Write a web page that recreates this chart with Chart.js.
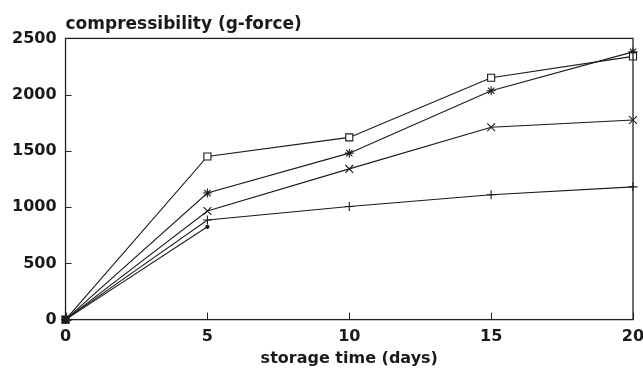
<!DOCTYPE html>
<html>
<head>
<meta charset="utf-8">
<script src="https://cdn.jsdelivr.net/npm/chart.js@4/dist/chart.umd.min.js"></script>
<style>
  html, body { margin: 0; padding: 0; background: #fff; }
  #wrap { width: 643px; height: 368px; }
</style>
</head>
<body>
<div id="wrap"><canvas id="c" width="643" height="368"></canvas></div>
<script>
const days = [0, 5, 10, 15, 20];
const squareSeries = [0, 1450, 1620, 2150, 2340];
const starSeries = [0, 1125, 1480, 2035, 2380];
const crossRotSeries = [0, 965, 1340, 1710, 1775];
const crossSeries = [0, 885, 1005, 1110, 1180];
const dotSeries = [0, 825];
const yTicks = [0, 500, 1000, 1500, 2000, 2500];
const xTicks = [0, 5, 10, 15, 20];
const titleText = 'compressibility (g-force)';
const xTitleText = 'storage time (days)';

const FONT = 'DejaVu Sans';
const INK = '#1a1a1a';

function pts(vals) { return vals.map((v, i) => ({ x: days[i], y: v })); }

function ds(vals, style, radius, fill) {
  return {
    data: pts(vals),
    borderColor: INK,
    borderWidth: 1.1,
    pointStyle: style,
    pointRadius: radius,
    pointBorderColor: INK,
    pointBorderWidth: 1.1,
    pointBackgroundColor: fill,
    tension: 0,
    clip: false
  };
}

const frame = {
  id: 'frame',
  afterDraw(chart) {
    const { ctx, chartArea: a, scales } = chart;
    ctx.save();
    ctx.strokeStyle = '#222';
    ctx.lineWidth = 1.3;
    ctx.strokeRect(a.left, a.top, a.right - a.left, a.bottom - a.top);
    ctx.lineWidth = 1;
    yTicks.forEach(v => {
      const y = Math.round(scales.y.getPixelForValue(v)) + 0.5;
      ctx.beginPath(); ctx.moveTo(a.left, y); ctx.lineTo(a.left + 6, y); ctx.stroke();
    });
    xTicks.forEach(v => {
      const x = Math.round(scales.x.getPixelForValue(v)) + 0.5;
      ctx.beginPath(); ctx.moveTo(x, a.bottom); ctx.lineTo(x, a.bottom - 7); ctx.stroke();
    });
    ctx.restore();
  }
};

new Chart(document.getElementById('c'), {
  type: 'line',
  data: {
    datasets: [
      ds(squareSeries, 'rect', 5, c => (c.dataIndex === 0 ? INK : '#fff')),
      ds(starSeries, 'star', 4.5, INK),
      ds(crossRotSeries, 'crossRot', 5.5, INK),
      ds(crossSeries, 'cross', 4.5, INK),
      ds(dotSeries, 'circle', 1.6, INK)
    ]
  },
  options: {
    responsive: false,
    animation: false,
    layout: { padding: { left: 3, right: 0, top: 10, bottom: 0 } },
    plugins: {
      legend: { display: false },
      tooltip: { enabled: false },
      title: {
        display: true,
        text: titleText,
        align: 'start',
        fullSize: false,
        color: INK,
        font: { family: FONT, size: 17, weight: 'bold' },
        padding: { top: 4, bottom: 4 }
      }
    },
    scales: {
      x: {
        type: 'linear',
        min: 0, max: 20,
        afterBuildTicks: s => { s.ticks = xTicks.map(v => ({ value: v })); },
        afterFit: s => { s.paddingRight = 10; },
        grid: { display: false, drawTicks: false },
        border: { display: false },
        ticks: { color: INK, padding: 8, callback: v => String(v), font: { family: FONT, size: 16, weight: 'bold' } },
        title: {
          display: true, text: xTitleText, color: INK,
          font: { family: FONT, size: 16, weight: 'bold' },
          padding: { top: -6, bottom: 0 }
        }
      },
      y: {
        min: 0, max: 2500,
        afterBuildTicks: s => { s.ticks = yTicks.map(v => ({ value: v })); },
        grid: { display: false, drawTicks: false },
        border: { display: false },
        ticks: { color: INK, padding: 9, callback: v => String(v), font: { family: FONT, size: 16, weight: 'bold' } }
      }
    }
  },
  plugins: [frame]
});
</script>
</body>
</html>
